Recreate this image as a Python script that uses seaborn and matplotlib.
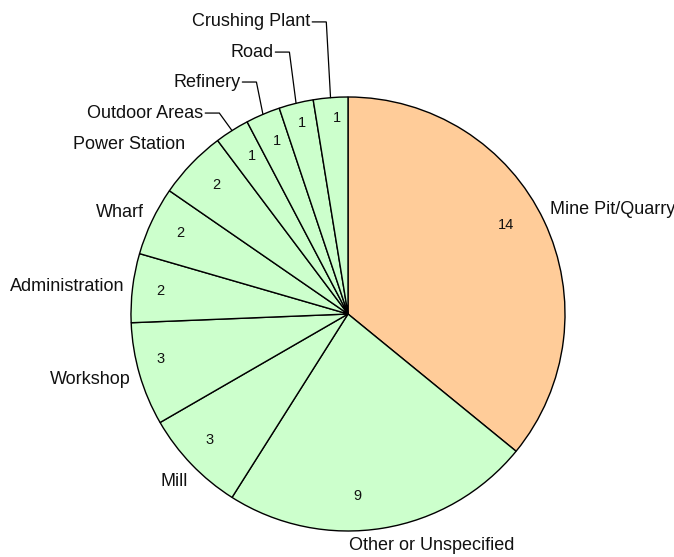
import numpy as np
import matplotlib
matplotlib.use("Agg")
import matplotlib.pyplot as plt
import seaborn as sns

# data (clockwise from 12 o'clock)
locations = ["Mine Pit/Quarry", "Other or Unspecified", "Mill", "Workshop",
             "Administration", "Wharf", "Power Station", "Outdoor Areas",
             "Refinery", "Road", "Crushing Plant"]
counts = [14, 9, 3, 3, 2, 2, 2, 1, 1, 1, 1]
slice_colors = ["#FFCC99"] + ["#CCFFCC"] * 10

# layout: label anchors (in pie radii) and alignment, value-label anchors
label_pos = [(0.931, 0.482), (0.387, -1.069), (-0.802, -0.772), (-1.0, -0.304),
             (-1.028, 0.129), (-0.940, 0.470), (-0.751, 0.783), (-0.668, 0.926),
             (-0.497, 1.069), (-0.345, 1.207), (-0.175, 1.346)]
label_ha = ["left", "center", "center", "right", "right", "right", "right",
            "right", "right", "right", "right"]
leader = [False] * 7 + [True] * 4
value_pos = [(0.728, 0.410), (0.044, -0.839), (-0.636, -0.581), (-0.866, -0.207),
             (-0.866, 0.106), (-0.774, 0.373), (-0.605, 0.594), (-0.441, 0.728),
             (-0.329, 0.797), (-0.211, 0.879), (-0.052, 0.902)]

sns.set_theme(style="white")
plt.rcParams["font.family"] = ["Liberation Sans", "DejaVu Sans"]

fig = plt.figure(figsize=(6.74, 5.57), dpi=100)
ax = fig.add_axes([131 / 674, 26 / 557, 434 / 674, 434 / 557])

wedges, _ = ax.pie(counts, colors=slice_colors, startangle=90, counterclock=False,
                   radius=1, wedgeprops=dict(edgecolor="black", linewidth=1.0))
ax.set_xlim(-1, 1)
ax.set_ylim(-1, 1)
ax.set_aspect("equal")
ax.axis("off")

for w, name, n, (lx, ly), ha, lead, (vx, vy) in zip(
        wedges, locations, counts, label_pos, label_ha, leader, value_pos):
    ax.text(vx, vy, str(n), ha="center", va="center", fontsize=10.5, color="#111111")
    ax.text(lx, ly, name, ha=ha, va="center", fontsize=13, color="#111111")
    if lead:
        mid = np.deg2rad((w.theta1 + w.theta2) / 2)
        px, py = np.cos(mid), np.sin(mid)
        x0 = lx + 0.01
        x1 = x0 + 0.065
        ax.plot([x0, x1, px], [ly, ly, py], color="black", lw=0.9,
                clip_on=False, solid_joinstyle="miter")

fig.savefig("out.png", dpi=100)
